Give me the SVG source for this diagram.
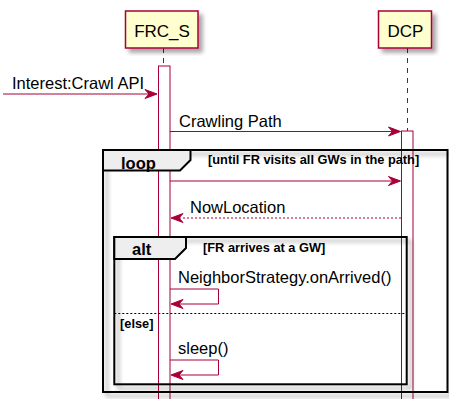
<svg xmlns="http://www.w3.org/2000/svg" width="449" height="399" viewBox="0 0 449 399">
  <defs>
    <filter id="shadow" x="-10%" y="-10%" width="130%" height="130%">
      <feDropShadow dx="4" dy="4" stdDeviation="2" flood-color="#000" flood-opacity="0.35"/>
    </filter>
    <style>
      text { font-family: "Liberation Sans", Arial, sans-serif; fill: #000; }
      .pname { font-size: 17px; text-anchor: middle; }
      .msg { font-size: 16.5px; }
      .kw { font-size: 16.5px; font-weight: bold; }
      .cond { font-size: 12.8px; font-weight: bold; }
      .participant { fill: #FEFECE; stroke: #A80036; stroke-width: 1.5; filter: url(#shadow); }
      .lifeline { stroke: #A80036; stroke-width: 1; stroke-dasharray: 5,5; fill: none; }
      .activation { fill: #FFFFFF; stroke: #A80036; stroke-width: 1; }
      .frame { fill: none; stroke: #000; stroke-width: 2; filter: url(#shadow); }
      .tab { fill: #EEEEEE; stroke: #000; stroke-width: 2; }
      .sep { stroke: #000; stroke-width: 1; stroke-dasharray: 2,2; }
      .line { stroke: #A80036; stroke-width: 1; fill: none; }
      .dashed { stroke-dasharray: 2,2; }
      .head { fill: #A80036; stroke: #A80036; stroke-width: 1; }
    </style>
  </defs>

  <!-- lifelines -->
  <g id="lifelines">
    <line class="lifeline" x1="163.5" y1="48" x2="163.5" y2="66"/>
    <line class="lifeline" x1="407.5" y1="48" x2="407.5" y2="131"/>
  </g>

  <!-- participants -->
  <g id="FRC_S">
    <rect class="participant" x="125.5" y="11" width="72.5" height="37"/>
    <text class="pname" x="162" y="36.5">FRC_S</text>
    <rect class="activation" x="158.5" y="66" width="11.5" height="340"/>
  </g>
  <g id="DCP">
    <rect class="participant" x="378.5" y="11" width="53" height="37"/>
    <text class="pname" x="405.5" y="36.5">DCP</text>
    <rect class="activation" x="401.5" y="131" width="11.5" height="280"/>
  </g>

  <!-- combined fragments -->
  <g id="loop">
    <rect class="frame" x="103" y="150" width="344.5" height="242"/>
    <polygon class="tab" points="103,150 190.5,150 190.5,160 180,170.5 103,170.5"/>
    <text class="kw" x="121" y="169">loop</text>
    <text class="cond" x="208" y="164">[until FR visits all GWs in the path]</text>
  </g>
  <g id="alt">
    <rect class="frame" x="114.3" y="237" width="292.4" height="147.3"/>
    <polygon class="tab" points="114.3,237 186,237 186,248 175,259 114.3,259"/>
    <text class="kw" x="132" y="255">alt</text>
    <text class="cond" x="203" y="251.5">[FR arrives at a GW]</text>
    <line class="sep" x1="114.3" y1="313.5" x2="406.7" y2="313.5"/>
    <text class="cond" x="120" y="327.5">[else]</text>
  </g>

  <!-- messages -->
  <g id="connectors">
    <line class="line" x1="3" y1="94" x2="155" y2="94"/>
    <polygon class="head" points="145,89.5 157,94 145,98.5 149,94"/>
    <text class="msg" x="12" y="89">Interest:Crawl API</text>

    <line class="line" x1="170" y1="131.5" x2="398.5" y2="131.5"/>
    <polygon class="head" points="388.5,127 400.5,131.5 388.5,136 392.5,131.5"/>
    <text class="msg" x="179" y="127">Crawling Path</text>

    <line class="line" x1="170" y1="181" x2="398.5" y2="181"/>
    <polygon class="head" points="388.5,176.5 400.5,181 388.5,185.5 392.5,181"/>

    <line class="line dashed" x1="401" y1="218" x2="173" y2="218"/>
    <polygon class="head" points="183,213.5 171,218 183,222.5 179,218"/>
    <text class="msg" x="190" y="213">NowLocation</text>

    <path class="line" d="M170,289 H218.5 V304 H173"/>
    <polygon class="head" points="183,299.5 171,304 183,308.5 179,304"/>
    <text class="msg" x="178" y="283">NeighborStrategy.onArrived()</text>

    <path class="line" d="M170,360 H218.5 V375 H173"/>
    <polygon class="head" points="183,370.5 171,375 183,379.5 179,375"/>
    <text class="msg" x="178" y="354">sleep()</text>
  </g>
</svg>
